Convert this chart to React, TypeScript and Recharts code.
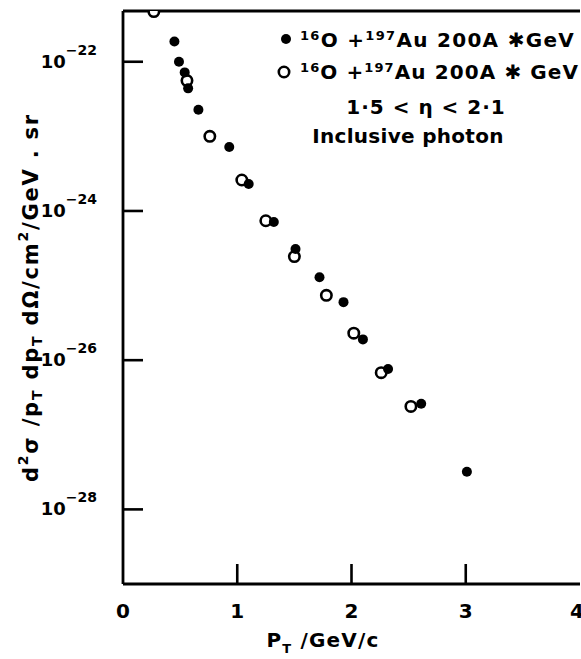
import React from 'react';
import { ScatterChart, Scatter, XAxis, YAxis, ReferenceLine, Legend } from 'recharts';

const FONT = '"DejaVu Sans", "Noto Sans", sans-serif';

// filled circles: 16O + 197Au 200A*GeV
const pTFilled = [0.45, 0.49, 0.54, 0.57, 0.66, 0.93, 1.1, 1.32, 1.51, 1.72, 1.93, 2.1, 2.32, 2.61, 3.01];
const sigmaFilled = [1.87e-22, 1.0e-22, 7.2e-23, 4.4e-23, 2.27e-23, 7.2e-24, 2.3e-24, 7.1e-25, 3.1e-25, 1.29e-25, 6.0e-26, 1.9e-26, 7.6e-27, 2.6e-27, 3.2e-28];

// open circles: 16O + 197Au 200A*GeV
const pTOpen = [0.27, 0.56, 0.76, 1.04, 1.25, 1.5, 1.78, 2.02, 2.26, 2.52];
const sigmaOpen = [4.7e-22, 5.6e-23, 1.0e-23, 2.6e-24, 7.4e-25, 2.45e-25, 7.4e-26, 2.3e-26, 6.8e-27, 2.4e-27];

const xTicks = [0, 1, 2, 3, 4];
const yTicks = [1e-22, 1e-24, 1e-26, 1e-28];
const xDomain = [0, 4];
const yDomain = [1e-29, 4.79e-22];

const filledData = pTFilled.map((x, i) => ({ x, y: sigmaFilled[i] }));
const openData = pTOpen.map((x, i) => ({ x, y: sigmaOpen[i] }));

const FilledDot = (p: any) => <circle cx={p.cx} cy={p.cy} r={5} fill="#000" />;
const OpenDot = (p: any) => <circle cx={p.cx} cy={p.cy} r={5.2} fill="#fff" stroke="#000" strokeWidth={2.6} />;

const XTick = (props: any) => {
  const { x, y, payload } = props;
  const v = payload.value;
  return (
    <g>
      {v > 0 && v < 4 && <line x1={x} x2={x} y1={y} y2={y - 20} stroke="#000" strokeWidth={2.6} />}
      <text x={x} y={y + 34} textAnchor="middle" fontFamily={FONT} fontWeight="bold" fontSize={20} fill="#000">
        {v}
      </text>
    </g>
  );
};

const YTick = (props: any) => {
  const { x, y, payload } = props;
  const e = Math.round(Math.log10(payload.value));
  return (
    <g>
      <line x1={x} x2={x + 20} y1={y} y2={y} stroke="#000" strokeWidth={2.6} />
      <text x={x - 26} y={y + 6} textAnchor="end" fontFamily={FONT} fontWeight="bold" fontSize={18} fill="#000">
        10<tspan dy={-13} fontSize={14}>{'−' + Math.abs(e)}</tspan>
      </text>
    </g>
  );
};

const YLabel = (props: any) => {
  const vb = props.viewBox || { x: 0, y: 11, width: 123, height: 573 };
  const cx = vb.x + 32;
  const cy = vb.y + vb.height / 2;
  return (
    <text
      x={cx}
      y={cy}
      transform={`rotate(-90 ${cx} ${cy})`}
      textAnchor="middle"
      dominantBaseline="middle"
      fontFamily={FONT}
      fontWeight="bold"
      fontSize={21}
      letterSpacing={1.8}
      fill="#000"
    >
      d<tspan dy={-8} fontSize={14}>2</tspan>
      <tspan dy={8}>σ /p</tspan>
      <tspan dy={6} fontSize={14}>T</tspan>
      <tspan dy={-6}> dp</tspan>
      <tspan dy={6} fontSize={14}>T</tspan>
      <tspan dy={-6}> dΩ/cm</tspan>
      <tspan dy={-8} fontSize={14}>2</tspan>
      <tspan dy={8}>/GeV . sr</tspan>
    </text>
  );
};

const XLabel = (props: any) => {
  const vb = props.viewBox || { x: 123, y: 584, width: 457, height: 75 };
  const cx = vb.x + 200;
  const cy = vb.y + 63;
  return (
    <text x={cx} y={cy} textAnchor="middle" fontFamily={FONT} fontWeight="bold" fontSize={20} letterSpacing={1.2} fill="#000">
      P<tspan dy={6} fontSize={13}>T</tspan>
      <tspan dy={-6}> /GeV/c</tspan>
    </text>
  );
};

const LegendContent = () => (
  <svg width={581} height={160} style={{ display: 'block', overflow: 'visible' }}>
    <circle cx={286} cy={39} r={5} fill="#000" />
    <text x={300} y={47} fontFamily={FONT} fontWeight="bold" fontSize={20} letterSpacing={1.3} fill="#000">
      <tspan dy={-7} fontSize={13}>16</tspan>
      <tspan dy={7}>O +</tspan>
      <tspan dy={-7} fontSize={13}>197</tspan>
      <tspan dy={7}>Au 200A ✱GeV</tspan>
    </text>
    <circle cx={284} cy={72} r={5.2} fill="#fff" stroke="#000" strokeWidth={2.6} />
    <text x={300} y={79} fontFamily={FONT} fontWeight="bold" fontSize={20} letterSpacing={1.1} fill="#000">
      <tspan dy={-7} fontSize={13}>16</tspan>
      <tspan dy={7}>O +</tspan>
      <tspan dy={-7} fontSize={13}>197</tspan>
      <tspan dy={7}>Au 200A ✱ GeV</tspan>
    </text>
    <text x={426} y={114} textAnchor="middle" fontFamily={FONT} fontWeight="bold" fontSize={20} letterSpacing={1} fill="#000">
      1·5 &lt; η &lt; 2·1
    </text>
    <text x={408} y={143} textAnchor="middle" fontFamily={FONT} fontWeight="bold" fontSize={20} letterSpacing={0.3} fill="#000">
      Inclusive photon
    </text>
  </svg>
);

export default function App() {
  return (
    <div style={{ position: 'absolute', left: 0, top: 0, width: 581, height: 659, background: '#fff' }}>
      <ScatterChart width={581} height={659} margin={{ top: 11, right: 1, bottom: 0, left: 0 }}>
        <XAxis
          type="number"
          dataKey="x"
          domain={xDomain}
          ticks={xTicks}
          height={75}
          tick={<XTick />}
          tickLine={false}
          tickSize={0}
          tickMargin={0}
          axisLine={{ stroke: '#000', strokeWidth: 2.8 }}
          label={<XLabel />}
          allowDataOverflow
        />
        <YAxis
          type="number"
          dataKey="y"
          scale="log"
          domain={yDomain}
          ticks={yTicks}
          width={123}
          tick={<YTick />}
          tickLine={false}
          tickSize={0}
          tickMargin={0}
          axisLine={{ stroke: '#000', strokeWidth: 2.8 }}
          label={<YLabel />}
          allowDataOverflow
          interval={0}
        />
        <ReferenceLine y={yDomain[1]} stroke="#000" strokeWidth={2.8} ifOverflow="visible" />
        <Scatter name="open" data={openData} shape={OpenDot} isAnimationActive={false} />
        <Scatter name="filled" data={filledData} shape={FilledDot} isAnimationActive={false} />
        <Legend
          content={<LegendContent />}
          wrapperStyle={{ position: 'absolute', top: 0, left: 0, width: 581, height: 0, overflow: 'visible' }}
        />
      </ScatterChart>
    </div>
  );
}
